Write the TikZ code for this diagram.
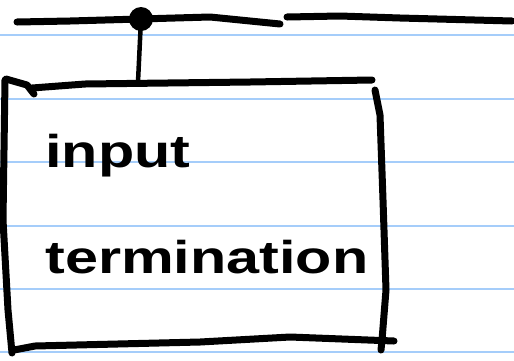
\documentclass[tikz,border=0pt]{standalone}
\usepackage{fontspec}
\setmainfont{Liberation Sans}
\definecolor{ruled}{RGB}{165,205,250}
\tikzset{
  ink/.style={line width=7pt, line cap=round, line join=round, black},
  thinink/.style={line width=4.5pt, line cap=round, line join=round, black},
  ruleline/.style={line width=1.8pt, ruled},
  hand/.style={font=\bfseries\fontsize{46}{46}\selectfont, inner sep=0pt, xscale=1.29}
}
\begin{document}
\begin{tikzpicture}[x=1pt,y=-1pt]
\useasboundingbox (0,0) rectangle (514,360);
\fill[white] (0,0) rectangle (514,360);
% ruled paper
\foreach \yy in {35,99,162,226,289,352}
  \draw[ruleline] (0,\yy) -- (514,\yy);
% bus line
\coordinate (busA) at (17,22);
\coordinate (busB) at (280,24);
\coordinate (busC) at (287,17);
\coordinate (busD) at (512,21);
\draw[ink] (busA) -- (70,21) -- (140,19) -- (210,17) -- (busB);
\draw[ink] (busC) -- (340,16) -- (400,18) -- (busD);
% junction dot
\coordinate (dot) at (141,19);
\fill[black] (dot) circle (12);
% stem to box
\coordinate (boxtop) at (138,82);
\draw[thinink] (dot) -- (boxtop);
% box outline (hand drawn)
\draw[ink] (6,79) -- (27,85) -- (34,94);
\draw[ink] (32,88) -- (85,84) -- (250,82) -- (372,80);
\draw[ink] (375,90) -- (380,115) -- (383,200) -- (386,290) -- (382,340) -- (381,350);
\draw[ink] (5,80) -- (4,150) -- (3,220) -- (8,310) -- (12,353);
\draw[ink] (14,350) -- (35,346) -- (200,342) -- (290,337) -- (394,341);
% text
\node[hand, anchor=base west] (l1) at (45,167) {input};
\node[hand, anchor=base west] (l2) at (45,273) {termination};
\end{tikzpicture}
\end{document}
